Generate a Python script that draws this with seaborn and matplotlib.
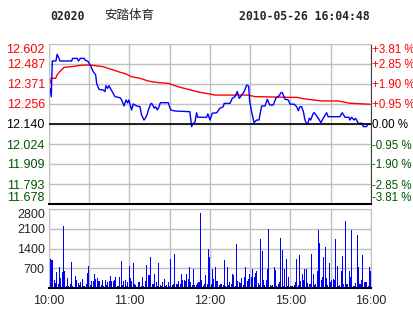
import numpy as np
import pandas as pd
import matplotlib
matplotlib.use("Agg")
import matplotlib.pyplot as plt
import seaborn as sns

sns.set_style("white")
plt.rcParams['font.family'] = ['DejaVu Sans', 'Noto Sans CJK SC']

code = "02020"
name = "安踏体育"
stamp = "2010-05-26 16:04:48"

prev_close = 12.140
price_ticks = [11.678, 11.793, 11.909, 12.024, 12.140, 12.256, 12.371, 12.487, 12.602]
pct_labels = ["-3.81 %", "-2.85 %", "-1.90 %", "-0.95 %", "0.00 %", "+0.95 %", "+1.90 %", "+2.85 %", "+3.81 %"]
vol_ticks = [700, 1400, 2100, 2800]
time_ticks = [0, 60, 120, 180, 240]
time_labels = ["10:00", "11:00", "12:00", "15:00", "16:00"]

price_t = [0.75, 1.7, 2.0, 2.5, 5.2, 6.0, 6.9, 8.2, 16.9, 17.6, 21.1, 21.9, 23.4, 26.3, 26.8,
           29.3, 31.3, 33.0, 34.8, 35.5, 37.3, 40.5, 41.7, 42.5, 43.7, 44.7, 46.2, 47.9, 49.2,
           52.9, 54.2, 55.9, 57.4, 58.6, 59.5, 60.4, 61.6, 62.8, 65.3, 67.8, 69.0, 70.8, 71.8,
           73.0, 74.5, 76.0, 76.8, 78.5, 79.5, 80.7, 81.8, 83.0, 88.9, 90.7, 93.9, 105.0, 106.3,
           107.5, 108.8, 110.0, 110.8, 117.5, 118.3, 118.7, 120.0, 121.7, 125.0, 127.4, 129.9,
           130.6, 134.9, 136.6, 138.6, 140.3, 141.8, 143.6, 145.5, 147.3, 148.8, 149.6, 151.0,
           152.8, 154.8, 156.5, 158.5, 161.0, 162.7, 164.5, 167.2, 169.0, 171.4, 172.9, 173.9,
           175.9, 178.4, 179.6, 182.8, 184.6, 185.8, 187.1, 188.3, 189.6, 190.8, 192.1, 193.0,
           194.0, 195.0, 197.0, 197.8, 200.7, 202.7, 204.4, 206.9, 208.1, 216.8, 218.6, 220.6,
           223.5, 224.3, 225.5, 227.3, 228.5, 230.5, 233.5, 234.2, 236.7, 237.5, 239.3]
price_v = [12.346, 12.298, 12.394, 12.504, 12.504, 12.542, 12.529, 12.504, 12.504, 12.519, 12.519,
           12.504, 12.519, 12.519, 12.510, 12.500, 12.471, 12.442, 12.423, 12.375, 12.340, 12.336,
           12.327, 12.361, 12.346, 12.361, 12.340, 12.317, 12.298, 12.292, 12.279, 12.244, 12.279,
           12.262, 12.279, 12.254, 12.221, 12.256, 12.244, 12.240, 12.192, 12.163, 12.173, 12.192,
           12.231, 12.259, 12.256, 12.231, 12.240, 12.221, 12.236, 12.263, 12.263, 12.221, 12.215,
           12.211, 12.125, 12.144, 12.150, 12.205, 12.179, 12.179, 12.198, 12.192, 12.163, 12.202,
           12.205, 12.231, 12.240, 12.259, 12.259, 12.288, 12.298, 12.327, 12.288, 12.307, 12.327,
           12.365, 12.359, 12.269, 12.211, 12.148, 12.163, 12.163, 12.244, 12.244, 12.283, 12.250,
           12.250, 12.288, 12.302, 12.321, 12.321, 12.283, 12.279, 12.255, 12.254, 12.240, 12.217,
           12.240, 12.240, 12.211, 12.163, 12.140, 12.144, 12.173, 12.163, 12.202, 12.205, 12.173,
           12.148, 12.173, 12.205, 12.182, 12.182, 12.205, 12.179, 12.179, 12.163, 12.179, 12.163,
           12.173, 12.144, 12.144, 12.125, 12.125, 12.138, 12.138]

avg_t = [0.75, 1.7, 5.0, 6.0, 8.0, 11.2, 16.9, 23.4, 29.3, 34.8, 40.5, 46.2, 52.9, 57.0, 61.6,
         67.8, 74.0, 81.4, 88.9, 96.3, 103.8, 112.5, 120.0, 123.7, 148.5, 153.5, 179.6, 184.6,
         189.6, 203.2, 215.6, 224.3, 239.3]
avg_v = [12.375, 12.404, 12.404, 12.423, 12.442, 12.467, 12.471, 12.479, 12.481, 12.477, 12.471,
         12.456, 12.439, 12.430, 12.413, 12.404, 12.388, 12.379, 12.375, 12.355, 12.340, 12.323,
         12.313, 12.307, 12.307, 12.298, 12.294, 12.294, 12.286, 12.273, 12.273, 12.260, 12.254]

volume = [1035, 1000, 1000, 294, 176, 565, 150, 753, 353, 565, 2200, 610, 80, 353, 80, 140, 917, 80, 0, 435,
          294, 176, 118, 212, 330, 80, 80, 150, 530, 788, 118, 259, 235, 494, 330, 353, 235, 235, 118, 294,
          80, 294, 90, 200, 259, 435, 259, 235, 294, 400, 80, 70, 400, 964, 118, 235, 294, 80, 200, 788,
          353, 235, 882, 140, 118, 0, 212, 212, 80, 400, 80, 259, 823, 470, 470, 1082, 150, 150, 505, 212,
          80, 894, 118, 80, 212, 330, 60, 118, 212, 80, 1035, 118, 140, 1211, 140, 140, 235, 140, 505, 282,
          282, 259, 494, 330, 753, 212, 118, 682, 90, 118, 165, 212, 2658, 294, 60, 150, 470, 150, 1400, 1110,
          150, 682, 330, 729, 259, 259, 118, 150, 150, 118, 1000, 80, 729, 118, 200, 150, 505, 470, 80, 1564,
          235, 200, 176, 353, 118, 400, 729, 235, 330, 505, 400, 682, 376, 541, 588, 188, 118, 1740, 1317, 294,
          118, 282, 670, 2093, 118, 80, 118, 753, 647, 80, 150, 200, 1788, 1352, 80, 682, 1035, 80, 400, 80,
          60, 60, 118, 212, 1035, 118, 1176, 259, 505, 294, 682, 682, 176, 150, 150, 1211, 505, 118, 140, 620,
          2058, 1588, 294, 400, 1082, 1458, 353, 118, 882, 212, 294, 330, 294, 1740, 788, 80, 118, 588, 1117, 150,
          2376, 150, 150, 588, 376, 2058, 80, 60, 165, 1882, 753, 150, 282, 1176, 212, 212, 212, 80, 729, 588]

W, H = 414, 314
fig = plt.figure(figsize=(W / 100, H / 100), dpi=100)
fig.patch.set_facecolor("white")

def rect(l, t, r, b):
    return [l / W, 1 - b / H, (r - l) / W, (b - t) / H]

ax = fig.add_axes(rect(49, 44, 371, 204))
axv = fig.add_axes(rect(49, 209, 371, 288))

grid_c = "#c0c0c0"
red = "#ff0000"
green = "#005500"
tick_font = "Liberation Sans"

def lab_color(v):
    if abs(v - prev_close) < 1e-6:
        return "black"
    return red if v > prev_close else green

# price panel
sns.lineplot(x=avg_t, y=avg_v, ax=ax, color=red, lw=1.0, estimator=None, sort=False)
sns.lineplot(x=price_t, y=price_v, ax=ax, color="#0000ff", lw=1.0, estimator=None, sort=False)
ax.axhline(prev_close, color="black", lw=1.2, zorder=3)
ax.set_xlim(0, 240)
ax.set_ylim(price_ticks[0], price_ticks[-1])
ax.set_yticks(price_ticks)
ax.set_yticklabels([f"{v:.3f}" for v in price_ticks], family=tick_font, fontsize=9)
ax.set_xticks(range(0, 241, 30))
ax.set_xticklabels([])
ax.grid(True, color=grid_c, lw=1)
ax.set_axisbelow(True)
ax.tick_params(axis="both", length=0, pad=3)
labs = ax.get_yticklabels()
for lab, v in zip(labs, price_ticks):
    lab.set_color(lab_color(v))
labs[0].set_verticalalignment("bottom")
labs[-1].set_verticalalignment("top")
for s in ["top", "left"]:
    ax.spines[s].set_color(grid_c)
ax.spines["right"].set_color("#404040")
ax.spines["bottom"].set_color("black")
ax.spines["bottom"].set_linewidth(1.5)
ax.set_xlabel("")
ax.set_ylabel("")

ax2 = ax.twinx()
ax2.set_ylim(price_ticks[0], price_ticks[-1])
ax2.set_yticks(price_ticks)
ax2.set_yticklabels(pct_labels, family=tick_font, fontsize=8.3)
ax2.tick_params(axis="y", length=0, pad=1)
labs2 = ax2.get_yticklabels()
for lab, v in zip(labs2, price_ticks):
    lab.set_color(lab_color(v))
labs2[0].set_verticalalignment("bottom")
labs2[-1].set_verticalalignment("top")
for s in ax2.spines.values():
    s.set_visible(False)

# volume panel
dfv = pd.DataFrame({"t": np.arange(len(volume)) + 0.8, "v": volume})
sns.barplot(data=dfv, x="t", y="v", ax=axv, native_scale=True, color="#0000ff",
            width=0.75, linewidth=0, saturation=1)
axv.set_xlim(0, 240)
axv.set_ylim(0, 2800)
axv.set_yticks(vol_ticks)
axv.set_yticklabels([str(v) for v in vol_ticks], family=tick_font, fontsize=9)
axv.set_xticks(range(0, 241, 30))
axv.set_xticklabels(["" if t not in time_ticks else time_labels[time_ticks.index(t)] for t in range(0, 241, 30)],
                    family=tick_font, fontsize=9)
axv.grid(True, color=grid_c, lw=1)
axv.set_axisbelow(True)
axv.tick_params(axis="both", length=0, pad=3)
axv.tick_params(axis="x", pad=5)
vlabs = axv.get_yticklabels()
vlabs[-1].set_verticalalignment("top")
for s in ["top", "left", "right"]:
    axv.spines[s].set_color(grid_c)
axv.spines["bottom"].set_color("black")
axv.spines["bottom"].set_linewidth(1.5)
axv.set_xlabel("")
axv.set_ylabel("")

# header
fig.text(50 / W, 1 - 16 / H, code, family="DejaVu Sans Mono", weight="bold", fontsize=8.3, va="center", ha="left")
fig.text(104 / W, 1 - 16 / H, name, family=["Noto Sans CJK SC"], fontsize=9, va="center", ha="left")
fig.text(370 / W, 1 - 16 / H, stamp, family="DejaVu Sans Mono", weight="bold", fontsize=8.3, va="center", ha="right")

fig.savefig("out.png", dpi=100, facecolor="white")
